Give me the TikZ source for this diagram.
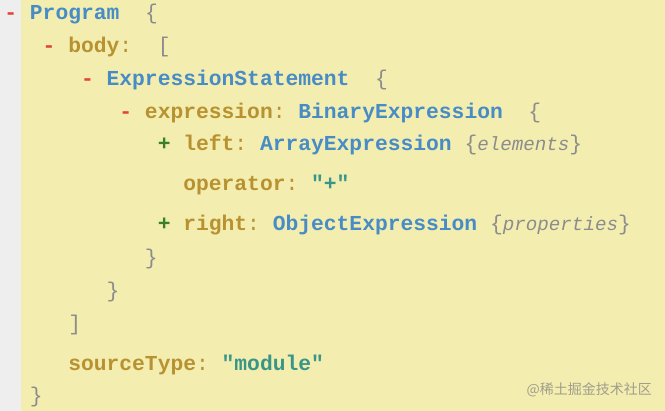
\documentclass[tikz,border=0pt]{standalone}
\usepackage{fontspec}
\setmonofont{Liberation Mono}
\newfontfamily\cjkfont{Noto Sans CJK SC}
\definecolor{bgyellow}{RGB}{243,237,176}
\definecolor{stripgrey}{RGB}{238,238,238}
\definecolor{minusred}{RGB}{226,68,56}
\definecolor{plusgreen}{RGB}{58,128,40}
\definecolor{keygold}{RGB}{184,146,48}
\definecolor{typeblue}{RGB}{72,140,198}
\definecolor{punctgrey}{RGB}{140,140,140}
\definecolor{strteal}{RGB}{56,150,136}
\definecolor{wmgrey}{RGB}{160,158,140}
\newcommand\Mi{\textcolor{minusred}{\bfseries -}}
\newcommand\Pl{\textcolor{plusgreen}{\bfseries +}}
\newcommand\Ky[1]{\textcolor{keygold}{\bfseries #1}\textcolor{keygold}{:}}
\newcommand\Ty[1]{\textcolor{typeblue}{\bfseries #1}}
\newcommand\Pu[1]{\textcolor{punctgrey}{#1}}
\newcommand\St[1]{\textcolor{strteal}{\bfseries #1}}
\newcommand\Em[1]{\textcolor{punctgrey}{\itshape\fontsize{19.2}{21.3}\selectfont #1}}
\tikzset{
  codeline/.style={anchor=base west, inner sep=0pt, outer sep=0pt,
    font=\ttfamily\fontsize{21.3}{21.3}\selectfont},
  watermark/.style={anchor=base east, inner sep=0pt, text=wmgrey,
    font=\cjkfont\fontsize{14}{14}\selectfont}
}
\begin{document}
\begin{tikzpicture}[x=1pt,y=-1pt]
\useasboundingbox (0,0) rectangle (665,411);
\fill[stripgrey] (0,0) rectangle (665,411);
\fill[bgyellow] (21,0) rectangle (665,411);
\def\cw{12.78}
\def\xo{4.4}
\node[codeline] (l1) at ({\xo+0*\cw},19.5) {\Mi~\Ty{Program}~~\Pu{\{}};
\node[codeline] (l2) at ({\xo+3*\cw},52.5) {\Mi~\Ky{body}~~\Pu{[}};
\node[codeline] (l3) at ({\xo+6*\cw},86) {\Mi~\Ty{ExpressionStatement}~~\Pu{\{}};
\node[codeline] (l4) at ({\xo+9*\cw},118.5) {\Mi~\Ky{expression}~\Ty{BinaryExpression}~~\Pu{\{}};
\node[codeline] (l5) at ({\xo+12*\cw},150.5) {\Pl~\Ky{left}~\Ty{ArrayExpression}~\Pu{\{}\Em{elements}\Pu{\}}};
\node[codeline] (l6) at ({\xo+14*\cw},191) {\Ky{operator}~\St{"+"}};
\node[codeline] (l7) at ({\xo+12*\cw},231) {\Pl~\Ky{right}~\Ty{ObjectExpression}~\Pu{\{}\Em{properties}\Pu{\}}};
\node[codeline] (l8) at ({\xo+11*\cw},265) {\Pu{\}}};
\node[codeline] (l9) at ({\xo+8*\cw},298) {\Pu{\}}};
\node[codeline] (l10) at ({\xo+5*\cw},331) {\Pu{]}};
\node[codeline] (l11) at ({\xo+5*\cw},371) {\Ky{sourceType}~\St{"module"}};
\node[codeline] (l12) at ({\xo+2*\cw},403) {\Pu{\}}};
\node[watermark] (wm) at (652,395) {@稀土掘金技术社区};
\end{tikzpicture}
\end{document}
